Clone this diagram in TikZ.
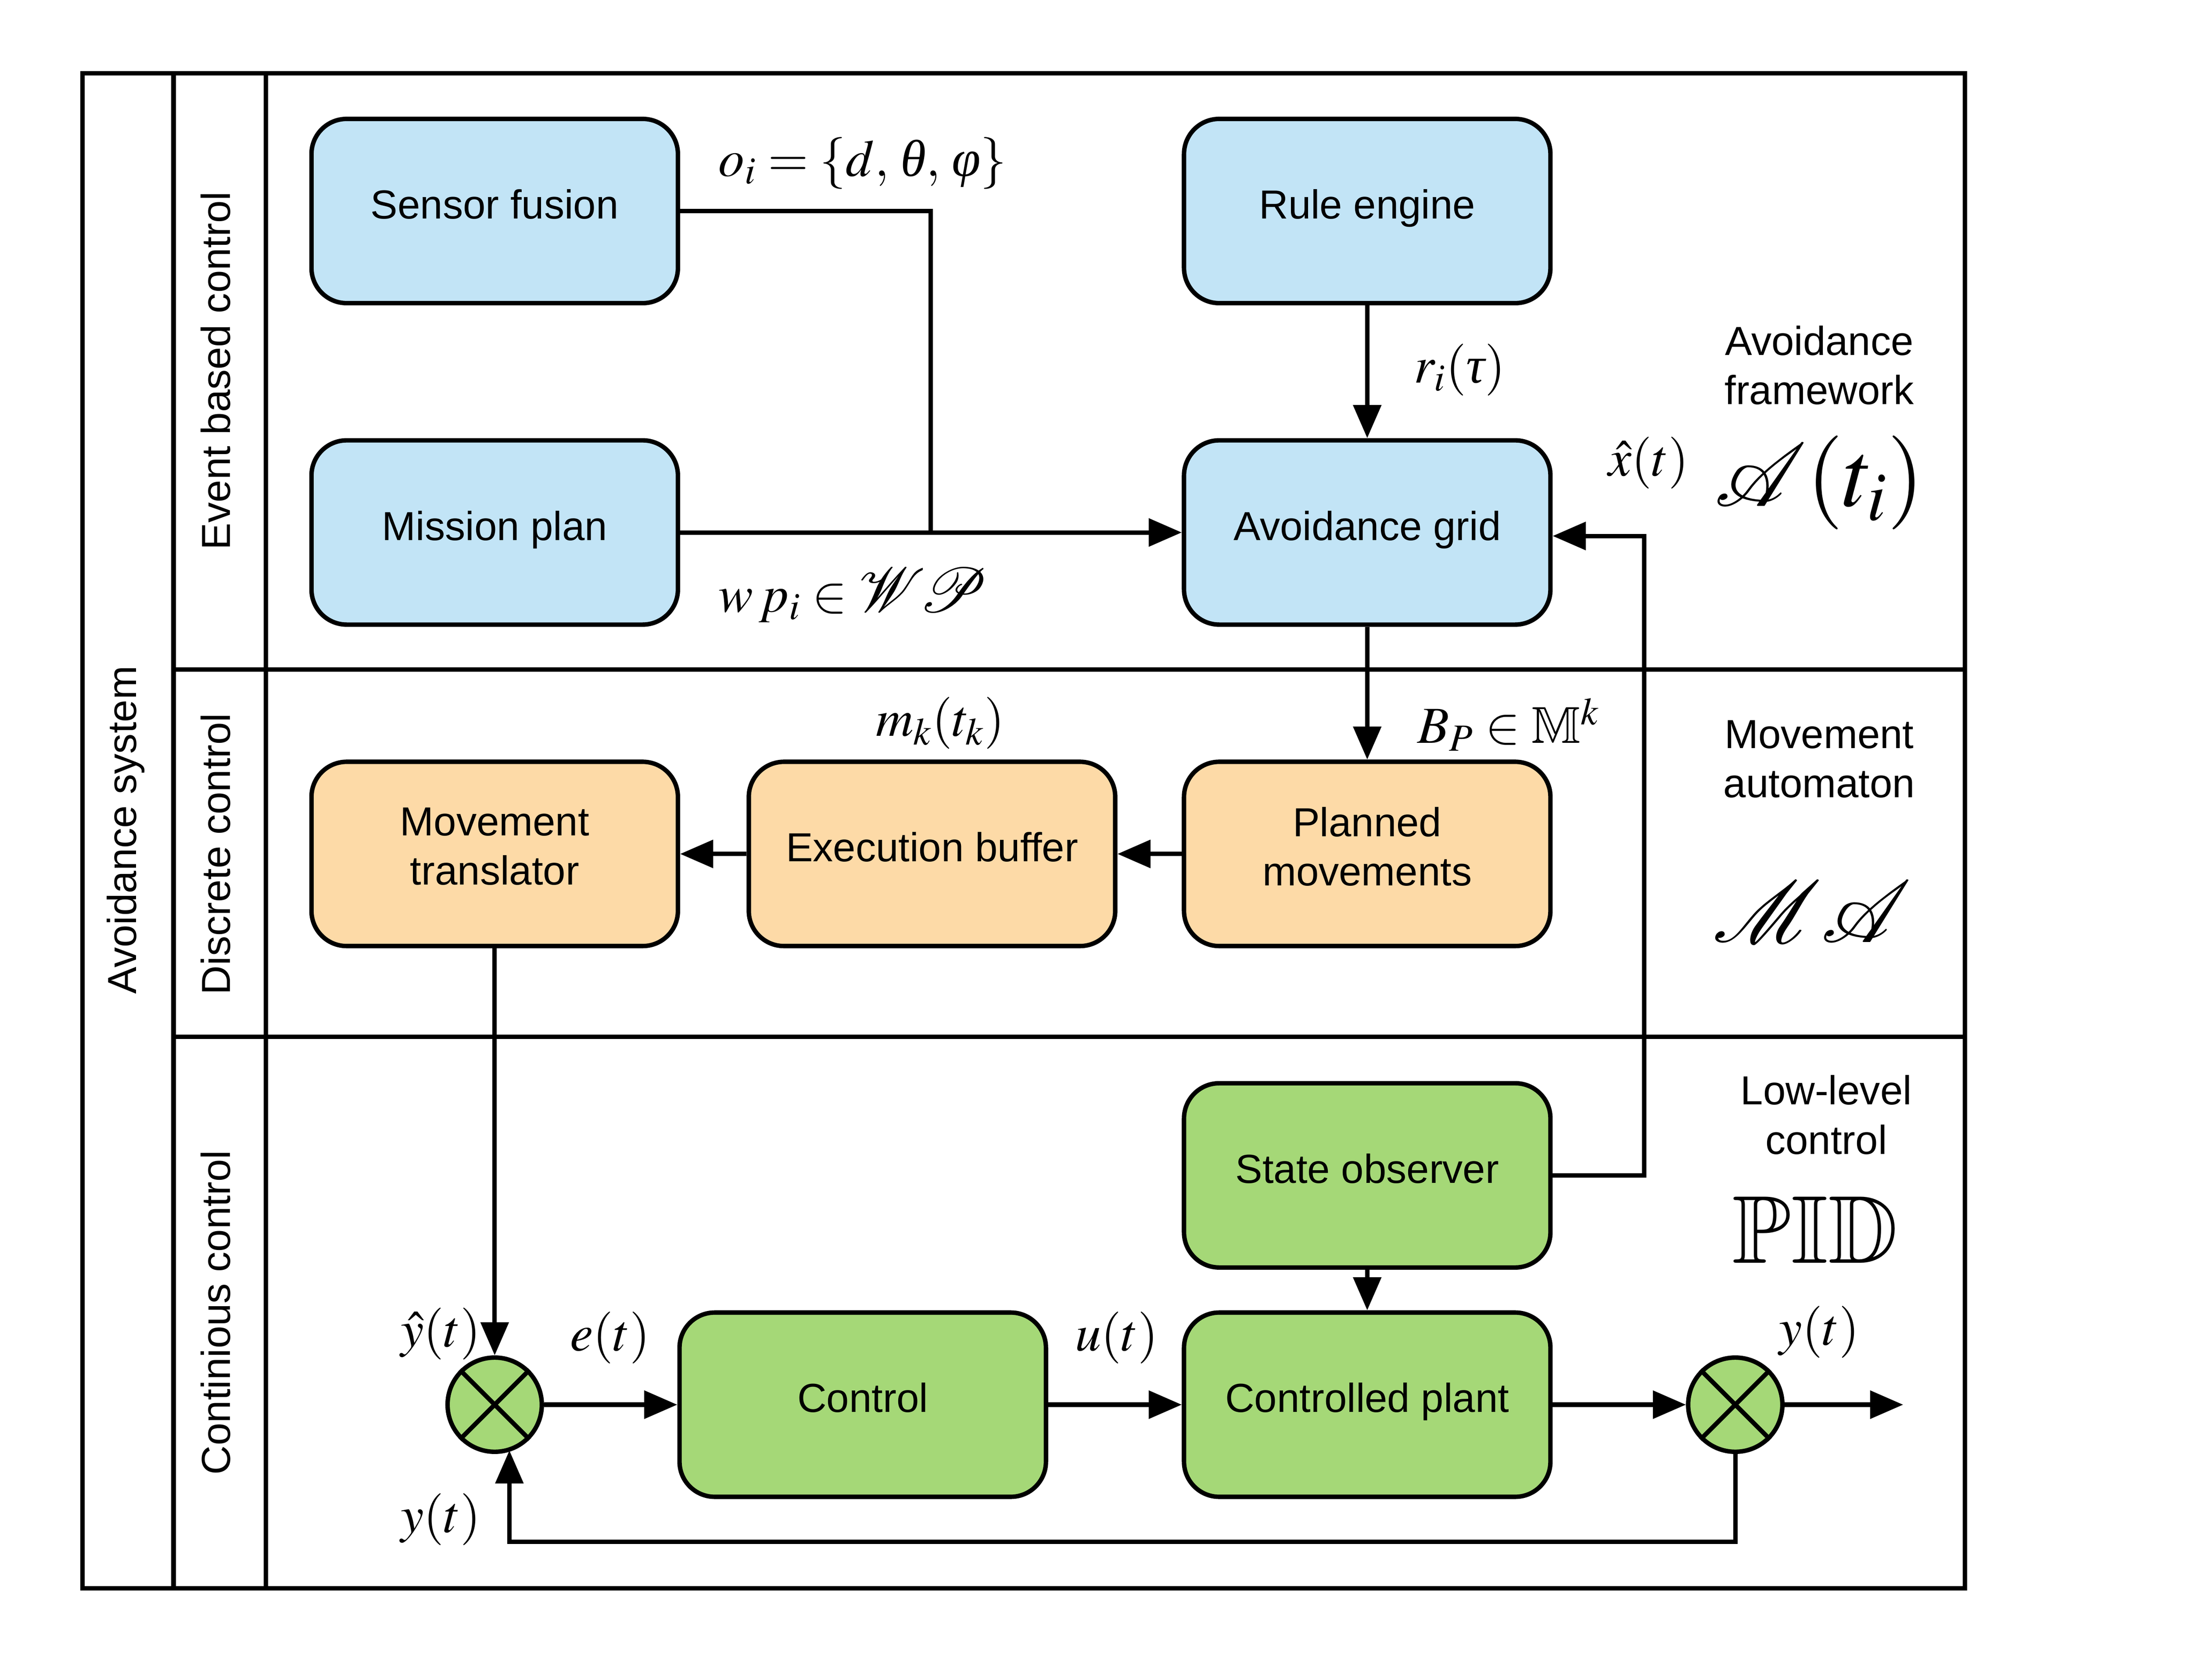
\documentclass[tikz,border=0pt]{standalone}
\usepackage{mathptmx}
\usepackage{amssymb}
\usepackage{mathrsfs}
\usepackage{graphicx}
\usepackage[no-math]{fontspec}
\setmainfont{Liberation Sans}
\newfontfamily\grkfont{Liberation Serif}
\newcommand{\grk}[1]{\mathord{\mbox{\grkfont\itshape #1}}}
\usetikzlibrary{arrows.meta,calc}
\definecolor{bluefill}{HTML}{C2E4F6}
\definecolor{orangefill}{HTML}{FDDAA7}
\definecolor{greenfill}{HTML}{A5D877}
\begin{document}
\begin{tikzpicture}[x=0.0199cm, y=-0.02cm, line width=1.8pt,
  box/.style={draw, rounded corners=0.5cm, minimum width=5.21cm, minimum height=2.62cm,
    align=center, inner sep=0pt, font=\fontsize{16.4}{19.9}\selectfont,
    execute at begin node={\rule{0pt}{12.3pt}},
    execute at end node={\rule[-6.1pt]{0pt}{6.1pt}}},
  bluebox/.style={box, fill=bluefill},
  orangebox/.style={box, fill=orangefill},
  greenbox/.style={box, fill=greenfill},
  sumnode/.style={draw, circle, fill=greenfill, minimum size=1.34cm, inner sep=0pt},
  lbl/.style={inner sep=0pt, font=\fontsize{21}{25}\selectfont},
  txt/.style={inner sep=0pt, align=center, font=\fontsize{16.4}{19.9}\selectfont},
  arr/.style={-{Triangle[length=0.47cm,width=0.39cm]}}]
\useasboundingbox (0,0) rectangle (1567.8,1194);
% frame and lanes
\draw (59,52) rectangle (1404,1129);
\draw (124,52) -- (124,1129);
\draw (190,52) -- (190,1129);
\draw (124,476) -- (1404,476);
\draw (124,737) -- (1404,737);
\node[txt, rotate=90] (lsys) at (90,590) {Avoidance system};
\node[txt, rotate=90] (lev) at (154,263.5) {Event based control};
\node[txt, rotate=90] (ldc) at (154,607) {Discrete control};
\node[txt, rotate=90] (lcc) at (154,933) {Continious control};
% boxes
\node[bluebox] (sf) at (353.5,150) {Sensor fusion};
\node[bluebox] (mp) at (353.5,378.5) {Mission plan};
\node[bluebox] (re) at (977,150) {Rule engine};
\node[bluebox] (ag) at (977,378.5) {Avoidance grid};
\node[orangebox] (mt) at (353.5,607) {Movement\\translator};
\node[orangebox] (eb) at (666,607) {Execution buffer};
\node[orangebox] (pm) at (977,607) {Planned\\movements};
\node[greenbox] (so) at (977,835.5) {State observer};
\node[greenbox] (ctl) at (616.5,998.5) {Control};
\node[greenbox] (cp) at (977,998.5) {Controlled plant};
\node[sumnode] (s1) at (353.5,998.5) {};
\node[sumnode] (s2) at (1240,998.5) {};
\draw (s1.north west) -- (s1.south east) (s1.north east) -- (s1.south west);
\draw (s2.north west) -- (s2.south east) (s2.north east) -- (s2.south west);
% connectors
\coordinate (j1) at (665,378.5);
\draw (sf.east) -| (j1);
\draw[arr] (mp.east) -- (ag.west);
\draw[arr] (re.south) -- (ag.north);
\draw[arr] (ag.south) -- (pm.north);
\draw[arr] (pm.west) -- (eb.east);
\draw[arr] (eb.west) -- (mt.east);
\draw[arr] (mt.south) -- (s1.north);
\draw[arr] (s1.east) -- (ctl.west);
\draw[arr] (ctl.east) -- (cp.west);
\draw[arr] (cp.east) -- (s2.west);
\coordinate (out) at (1360,998.5);
\draw[arr] (s2.east) -- (out);
\draw[arr] (so.south) -- (cp.north);
\coordinate (xr) at (1175,381);
\draw[arr] (so.east) -| (xr) -- (xr -| ag.east);
\coordinate (fb) at (1240,1096);
\coordinate (fbl) at (364,1096);
\coordinate (s1in) at (364,1031);
\draw[arr] (s2.south) -- (fb) -- (fbl) -- (s1in);
% labels
\node[lbl, anchor=west] (loi) at (512,116) {$o_i = \{d,\,\grk{θ},\,\grk{φ}\}$};
\node[lbl, anchor=west] (lwp) at (512,423) {$w\,p_i \in \scalebox{1.22}{$\mathscr{W}\!\mathscr{P}$}$};
\node[lbl] (lr) at (1043,263) {$r_i(\grk{τ})$};
\node[lbl] (lx) at (1178,329) {$\hat{x}(t)$};
\node[inner sep=0pt, font=\fontsize{38}{44}\selectfont] (lA) at (1300,343) {$\scalebox{1.45}{$\mathscr{A}$}(t_i)$};
\node[lbl] (lB) at (1078,515) {$B_P \in \mathbb{M}^k$};
\node[lbl] (lm) at (672,514) {$m_k(t_k)$};
\node[inner sep=0pt, font=\fontsize{34}{40}\selectfont] (lMA) at (1295,648) {\scalebox{1.42}{$\mathscr{M}\mathscr{A}$}};
\node[inner sep=0pt, font=\fontsize{39}{45}\selectfont] (lPID) at (1297,874) {$\mathbb{PID}$};
\node[lbl] (lyh) at (315,948) {$\hat{y}(t)$};
\node[lbl] (le) at (436,951) {$e(t)$};
\node[lbl] (lu) at (798,951) {$u(t)$};
\node[lbl] (ly1) at (1300,947) {$y(t)$};
\node[lbl] (ly2) at (315,1080) {$y(t)$};
\node[txt] (laf) at (1300,259.5) {Avoidance\\framework};
\node[txt] (lma) at (1300,539.5) {Movement\\automaton};
\node[txt] (llc) at (1305,792.5) {Low-level\\control};
\end{tikzpicture}
\end{document}
